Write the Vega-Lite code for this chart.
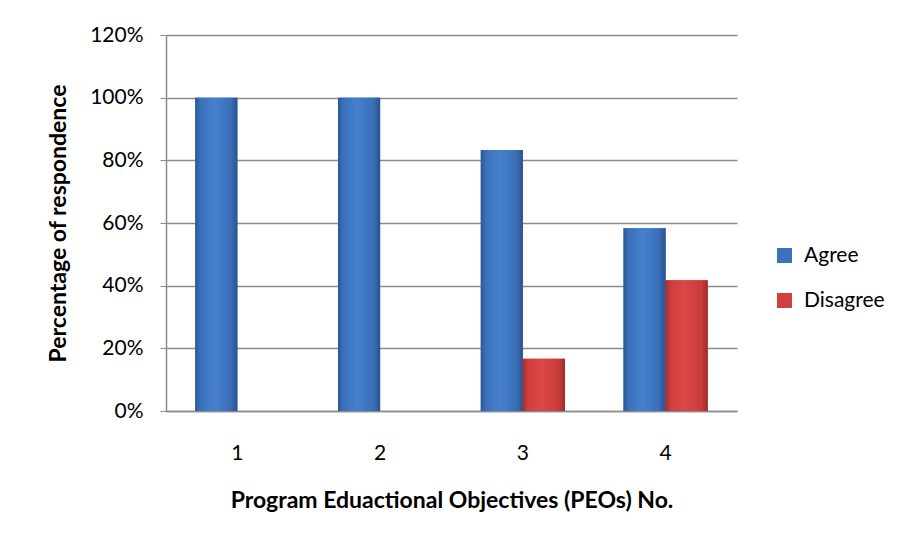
{
  "$schema": "https://vega.github.io/schema/vega-lite/v6.json",
  "autosize": {"type": "none"},
  "padding": {"left": 166, "top": 35, "right": 163, "bottom": 131},
  "width": 571,
  "height": 376,
  "background": "white",
  "config": {
    "view": {"stroke": null},
    "font": "Lato",
    "axis": {"labelFont": "Lato", "titleFont": "Lato", "labelColor": "#000000", "titleColor": "#000000"}
  },
  "data": {
    "values": [
      {"peo": "1", "response": "Agree", "pct": 1.0},
      {"peo": "1", "response": "Disagree", "pct": 0.0},
      {"peo": "2", "response": "Agree", "pct": 1.0},
      {"peo": "2", "response": "Disagree", "pct": 0.0},
      {"peo": "3", "response": "Agree", "pct": 0.833},
      {"peo": "3", "response": "Disagree", "pct": 0.167},
      {"peo": "4", "response": "Agree", "pct": 0.583},
      {"peo": "4", "response": "Disagree", "pct": 0.417}
    ]
  },
  "encoding": {
    "x": {
      "field": "peo",
      "type": "nominal",
      "scale": {"paddingInner": 0.41, "paddingOuter": 0.205},
      "axis": {
        "title": "Program Eduactional  Objectives (PEOs) No.",
        "titleFontSize": 23,
        "titleFontWeight": "bold",
        "titlePadding": 26,
        "labelAngle": 0,
        "labelFontSize": 21,
        "labelPadding": 31,
        "ticks": false,
        "domainColor": "#8c8c8c",
        "domainWidth": 1.5
      }
    },
    "xOffset": {"field": "response", "type": "nominal", "scale": {"domain": ["Agree", "Disagree"]}},
    "y": {
      "field": "pct",
      "type": "quantitative",
      "scale": {"domain": [0, 1.2], "nice": false},
      "axis": {
        "title": "Percentage of respondence",
        "titleFontSize": 23,
        "titleFontWeight": "bold",
        "titlePadding": 19,
        "values": [0, 0.2, 0.4, 0.6, 0.8, 1.0, 1.2],
        "format": ".0%",
        "labelFontSize": 21,
        "labelPadding": 17,
        "tickSize": 6,
        "tickColor": "#8c8c8c",
        "gridColor": "#8c8c8c",
        "gridWidth": 1.5,
        "domainColor": "#8c8c8c",
        "domainWidth": 1.5
      }
    }
  },
  "layer": [
    {
      "mark": {"type": "bar"},
      "encoding": {
        "color": {
          "field": "response",
          "type": "nominal",
          "scale": {"domain": ["Agree", "Disagree"], "range": ["#3c71bd", "#d0403e"]},
          "legend": {
            "title": null,
            "orient": "none",
            "legendX": 608,
            "legendY": 210,
            "symbolType": "square",
            "symbolSize": 225,
            "symbolStrokeWidth": 0,
            "labelFontSize": 21,
            "labelFont": "Lato",
            "rowPadding": 23,
            "labelOffset": 9
          }
        }
      }
    },
    {
      "mark": {"type": "bar"},
      "encoding": {
        "fill": {
          "condition": {
            "test": "datum.response === 'Agree'",
            "value": {
              "gradient": "linear", "x1": 0, "x2": 1, "y1": 0, "y2": 0,
              "stops": [
                {"offset": 0, "color": "#2b5895"},
                {"offset": 0.12, "color": "#3b70bb"},
                {"offset": 0.45, "color": "#4681cd"},
                {"offset": 0.85, "color": "#3a6db6"},
                {"offset": 1, "color": "#29528c"}
              ]
            }
          },
          "value": {
            "gradient": "linear", "x1": 0, "x2": 1, "y1": 0, "y2": 0,
            "stops": [
              {"offset": 0, "color": "#a52f2d"},
              {"offset": 0.12, "color": "#cc3f3d"},
              {"offset": 0.45, "color": "#dc4846"},
              {"offset": 0.85, "color": "#c93c3a"},
              {"offset": 1, "color": "#9c2b29"}
            ]
          }
        }
      }
    }
  ]
}
